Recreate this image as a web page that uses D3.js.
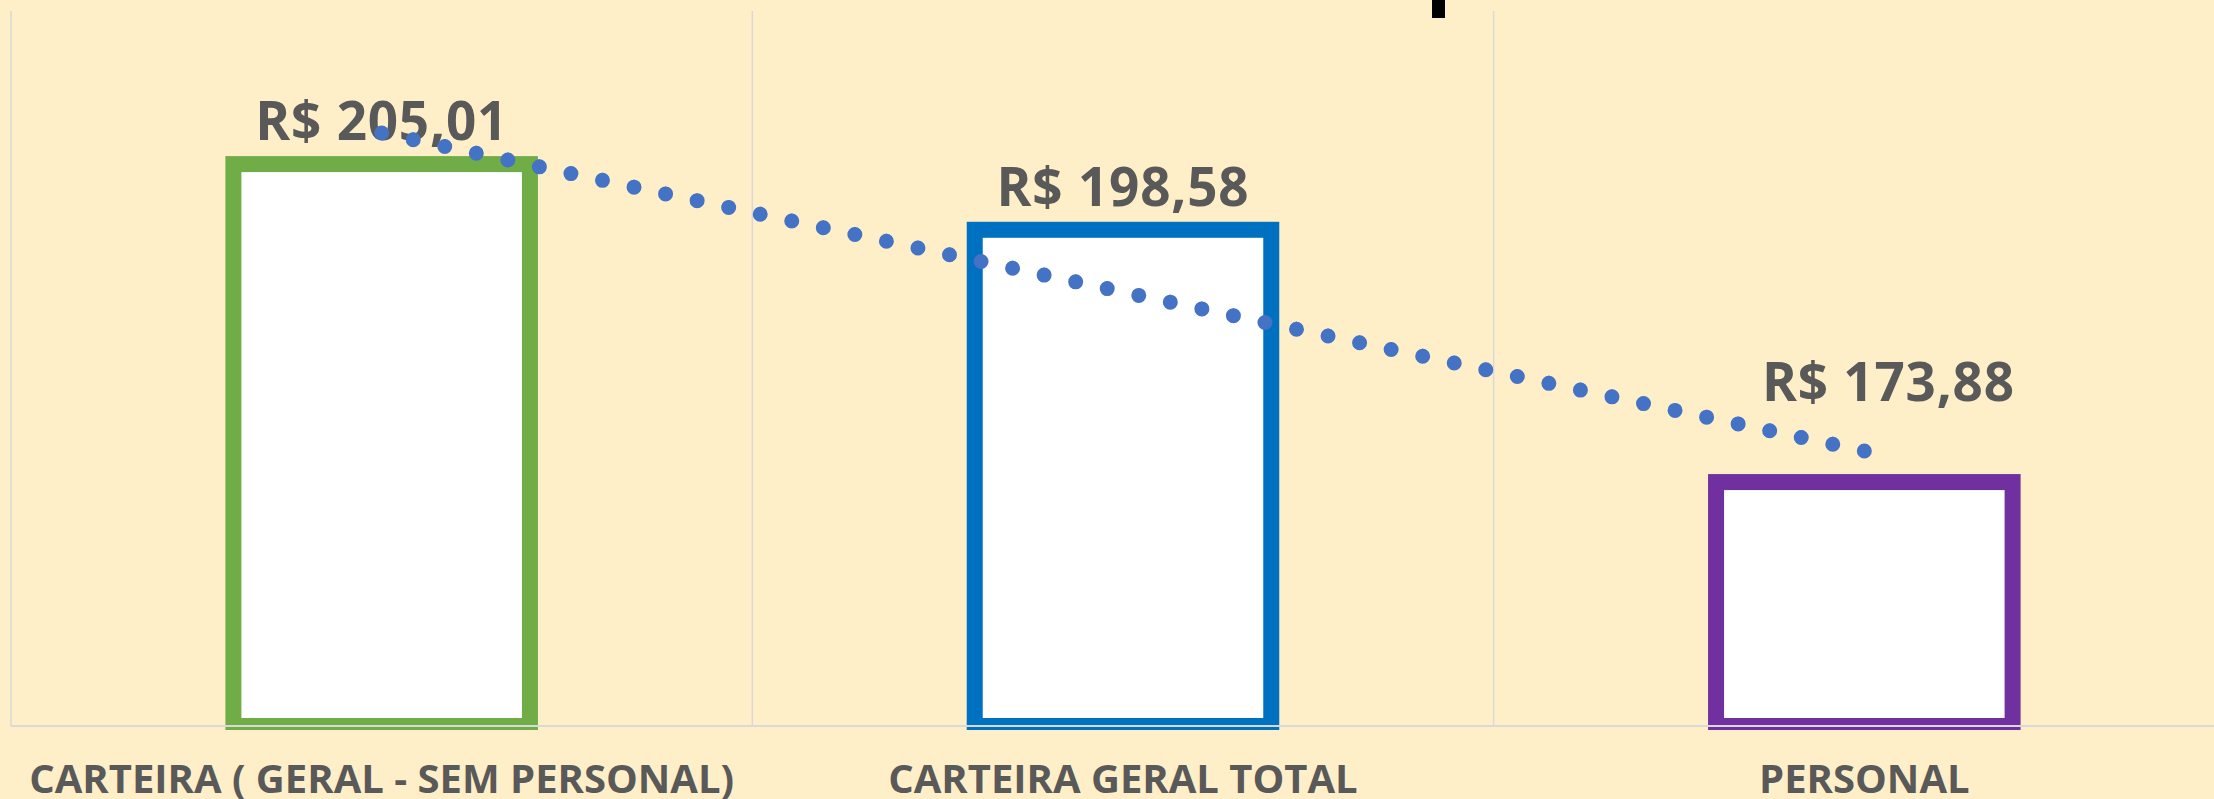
<!DOCTYPE html>
<html>
<head>
<meta charset="utf-8">
<script src="https://cdn.jsdelivr.net/npm/d3@7"></script>
<style>
  html, body { margin: 0; padding: 0; background: #FFEFC8; overflow: hidden; }
  svg { display: block; }
  text { font-family: "Open Sans", "Noto Sans", sans-serif; font-weight: 700; fill: #595959; }
</style>
</head>
<body>
<div id="vis"></div>
<script>
var categories = ["CARTEIRA ( GERAL - SEM PERSONAL)", "CARTEIRA GERAL TOTAL", "PERSONAL"];
var values = [205.01, 198.58, 173.88];
var valueLabels = ["R$ 205,01", "R$ 198,58", "R$ 173,88"];
var yDomain = [150, 220];

var barColors = ["#70AD47", "#0070C0", "#7030A0"];
// manual nudges of the data labels (the last one was dragged in the original)
var labelNudge = [[0, 0], [0, 0], [24, -57]];

var width = 2214, height = 799;
var plot = {left: 11, right: 2235, top: 11, bottom: 726};

var svg = d3.select("#vis").append("svg")
    .attr("width", width)
    .attr("height", height);

var x = d3.scaleBand()
    .domain(categories)
    .range([plot.left, plot.right])
    .paddingInner(0.6)
    .paddingOuter(0.3);

var y = d3.scaleLinear()
    .domain(yDomain)
    .range([plot.bottom, plot.top]);

var step = x.step();

// vertical gridlines at category boundaries
svg.append("g").selectAll("line")
    .data(d3.range(categories.length + 1))
    .enter().append("line")
    .attr("x1", function(i) { return plot.left + i * step; })
    .attr("x2", function(i) { return plot.left + i * step; })
    .attr("y1", plot.top)
    .attr("y2", plot.bottom)
    .attr("stroke", "#D9D9D9")
    .attr("stroke-width", 1.5);

svg.append("clipPath").attr("id", "plotclip")
  .append("rect")
    .attr("x", 0).attr("y", 0)
    .attr("width", width).attr("height", plot.bottom + 4);

var formatted = categories.map(function(c, i) {
  return {cat: c, value: values[i], label: valueLabels[i], color: barColors[i], nudge: labelNudge[i]};
});

// bars
svg.append("g").attr("clip-path", "url(#plotclip)")
  .selectAll("rect")
    .data(formatted)
    .enter().append("rect")
    .attr("x", function(d) { return x(d.cat); })
    .attr("y", function(d) { return y(d.value); })
    .attr("width", x.bandwidth())
    .attr("height", function(d) { return y(yDomain[0]) - y(d.value); })
    .attr("fill", "#FFFFFF")
    .attr("stroke", function(d) { return d.color; })
    .attr("stroke-width", 16);

// category axis baseline
svg.append("line")
    .attr("x1", plot.left)
    .attr("x2", plot.right)
    .attr("y1", plot.bottom)
    .attr("y2", plot.bottom)
    .attr("stroke", "#D9D9D9")
    .attr("stroke-width", 2);

// category labels
svg.append("g").selectAll("text")
    .data(formatted)
    .enter().append("text")
    .attr("x", function(d) { return x(d.cat) + x.bandwidth() / 2; })
    .attr("y", 793)
    .attr("text-anchor", "middle")
    .attr("font-size", 40)
    .text(function(d) { return d.cat; });

// data labels
svg.append("g").selectAll("text")
    .data(formatted)
    .enter().append("text")
    .attr("x", function(d) { return x(d.cat) + x.bandwidth() / 2 + d.nudge[0]; })
    .attr("y", function(d) { return y(d.value) - 24 + d.nudge[1]; })
    .attr("text-anchor", "middle")
    .attr("font-size", 53)
    .attr("letter-spacing", 0.8)
    .text(function(d) { return d.label; });

// linear trendline (least squares over category index)
var n = values.length;
var xs = d3.range(1, n + 1);
var mx = d3.mean(xs), my = d3.mean(values);
var slope = d3.sum(xs, function(v, i) { return (v - mx) * (values[i] - my); }) /
            d3.sum(xs, function(v) { return (v - mx) * (v - mx); });
var icept = my - slope * mx;
var trend = [xs[0], xs[n - 1]].map(function(v) {
  return {cat: categories[v - 1], value: icept + slope * v};
});

var trendPath = svg.append("path")
    .datum(trend)
    .attr("d", d3.line()
      .x(function(d) { return x(d.cat) + x.bandwidth() / 2; })
      .y(function(d) { return y(d.value); }))
    .attr("fill", "none")
    .attr("stroke", "#4472C4")
    .attr("stroke-width", 15)
    .attr("stroke-linecap", "round");

// round dots about 32px apart, with one sitting on each end
var len = trendPath.node().getTotalLength();
var gap = len / Math.round(len / 32.3);
trendPath.attr("stroke-dasharray", "0 " + (gap - 0.01) + " 0 0.01");

// clipped piece of the title at the top edge
svg.append("rect")
    .attr("x", 1432).attr("y", 0)
    .attr("width", 13).attr("height", 18)
    .attr("fill", "#000000");
</script>
</body>
</html>
